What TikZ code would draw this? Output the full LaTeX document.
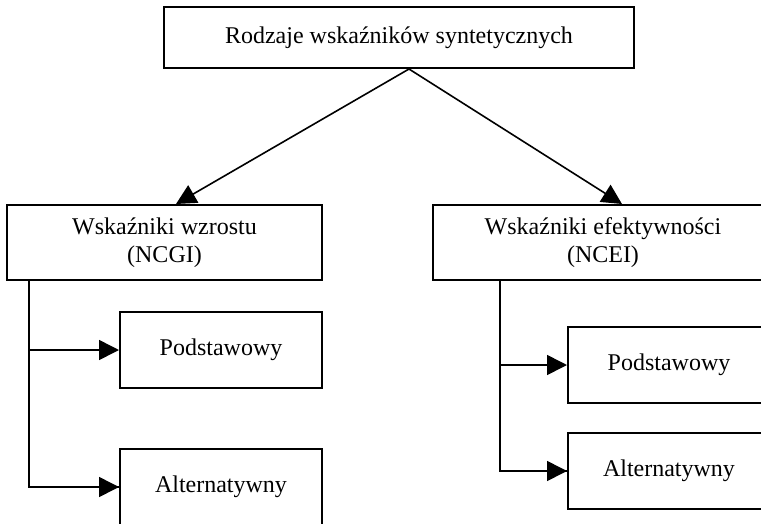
\documentclass[tikz,border=0pt]{standalone}
\usepackage{fontspec}
\setmainfont{Liberation Serif}
\usetikzlibrary{arrows.meta,calc}
\begin{document}
\begin{tikzpicture}[x=1pt,y=-1pt,
  box/.style={draw=black, line width=2pt, rectangle, inner sep=0pt, align=center, font=\fontsize{24}{28}\selectfont},
  conn/.style={draw=black, line width=1.6pt},
  arr/.style={conn, -{Triangle[length=20pt,width=20pt]}}]
\useasboundingbox (0,0) rectangle (761,523);
\fill[white] (0,0) rectangle (761,523);
\node[box, minimum width=470pt, minimum height=61pt] (top) at (399,37.5) {\raisebox{3pt}{Rodzaje wskaźników syntetycznych}};
\node[box, minimum width=315pt, minimum height=75pt] (left) at (164.5,242.5) {\raisebox{-3pt}{\begin{tabular}{@{}c@{}}Wskaźniki wzrostu\\(NCGI)\end{tabular}}};
\node[box, minimum width=340pt, minimum height=75pt] (right) at (603,242.5) {\raisebox{-3pt}{\begin{tabular}{@{}c@{}}Wskaźniki efektywności\\(NCEI)\end{tabular}}};
\node[box, minimum width=202pt, minimum height=76pt] (lp) at (221,350) {\raisebox{3pt}{Podstawowy}};
\node[box, minimum width=202pt, minimum height=76pt] (la) at (221,487) {Alternatywny};
\node[box, minimum width=202pt, minimum height=76pt] (rp) at (669,365) {\raisebox{4pt}{Podstawowy}};
\node[box, minimum width=202pt, minimum height=76pt] (ra) at (669,471) {\raisebox{3pt}{Alternatywny}};
\coordinate (apex) at ([xshift=10pt]top.south);
\draw[arr] (apex) -- ([xshift=11.5pt]left.north);
\draw[arr] (apex) -- ([xshift=19pt]right.north);
\coordinate (lstem) at ([xshift=23pt]left.south west);
\coordinate (rstem) at ([xshift=68pt]right.south west);
\draw[conn] (lstem) |- (la.west);
\draw[arr] (lstem) |- (lp.west);
\draw[arr] (lstem) |- (la.west);
\draw[conn] (rstem) |- (ra.west);
\draw[arr] (rstem) |- (rp.west);
\draw[arr] (rstem) |- (ra.west);
\end{tikzpicture}
\end{document}
